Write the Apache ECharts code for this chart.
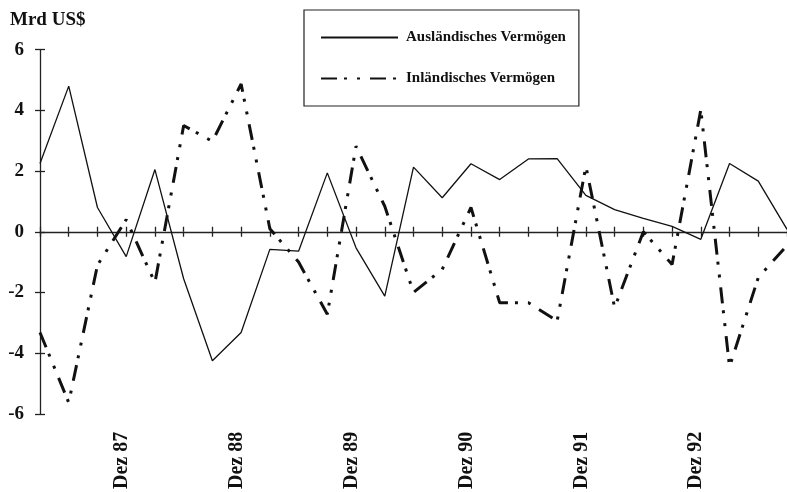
<!DOCTYPE html>
<html>
<head>
<meta charset="utf-8">
<script src="https://cdn.jsdelivr.net/npm/echarts@6/dist/echarts.min.js"></script>
<style>
html,body{margin:0;padding:0;background:#fff;}
#chart{width:787px;height:492px;}
</style>
</head>
<body>
<div id="chart"></div>
<script>
// Quarterly categories, Mär 87 – Sep 93
const categories = [
  "Mär 87","Jun 87","Sep 87","Dez 87",
  "Mär 88","Jun 88","Sep 88","Dez 88",
  "Mär 89","Jun 89","Sep 89","Dez 89",
  "Mär 90","Jun 90","Sep 90","Dez 90",
  "Mär 91","Jun 91","Sep 91","Dez 91",
  "Mär 92","Jun 92","Sep 92","Dez 92",
  "Mär 93","Jun 93","Sep 93"
];
const auslaendischesVermoegen = [
  2.25, 4.8, 0.8, -0.82, 2.05, -1.55, -4.25, -3.32, -0.58, -0.64, 1.94, -0.53, -2.12,
  2.13, 1.12, 2.24, 1.72, 2.4, 2.41, 1.2, 0.73, 0.44, 0.18, -0.25, 2.25, 1.67, 0.08
];
const inlaendischesVermoegen = [
  -3.32, -5.63, -1.1, 0.4, -1.68, 3.5, 2.98, 4.87, 0.1, -1.0, -2.72, 2.82, 0.84,
  -2.0, -1.24, 0.8, -2.34, -2.34, -2.94, 2.16, -2.5, 0.0, -1.08, 4.02, -4.45, -1.51, -0.45
];
const seriesNames = ["Ausländisches Vermögen", "Inländisches Vermögen"];
const unitLabel = "Mrd US$";

const serif = "'Liberation Serif', 'Times New Roman', serif";
const ink = "#111";

const chart = echarts.init(document.getElementById('chart'), null, {renderer: 'canvas'});

const xBase = {
  type: 'category',
  data: categories,
  boundaryGap: false,
  gridIndex: 0
};

chart.setOption({
  animation: false,
  backgroundColor: '#fff',
  title: {
    text: unitLabel,
    left: 5,
    top: 6,
    textStyle: {fontFamily: serif, fontWeight: 'bold', fontSize: 19, color: ink}
  },
  legend: {
    left: 304,
    top: 10,
    orient: 'vertical',
    data: seriesNames,
    itemWidth: 77,
    itemHeight: 14,
    itemGap: 26,
    padding: [20, 13, 20, 16],
    borderColor: '#222',
    borderWidth: 1.2,
    backgroundColor: '#fff',
    itemStyle: {opacity: 0},
    textStyle: {fontFamily: serif, fontWeight: 'bold', fontSize: 15, color: ink, padding: [0, 0, 0, 3]}
  },
  grid: {left: 40, right: 0, top: 49.7, bottom: 77.6},
  xAxis: [
    Object.assign({}, xBase, {
      position: 'bottom',
      axisLine: {show: false, onZero: false},
      axisTick: {show: false},
      axisLabel: {
        interval: function (idx, val) { return val.indexOf('Dez') === 0; },
        rotate: 90,
        margin: 18,
        formatter: function (val) { return '{a|' + val + '}\n{b| }'; },
        rich: {
          a: {fontFamily: serif, fontWeight: 'bold', fontSize: 20, color: ink, lineHeight: 20},
          b: {fontSize: 8, lineHeight: 9}
        }
      },
      splitLine: {show: false}
    }),
    Object.assign({}, xBase, {
      position: 'bottom',
      axisLine: {show: true, onZero: true, onZeroAxisIndex: 0, lineStyle: {color: '#222', width: 1.3}},
      axisTick: {show: true, inside: false, length: 5, interval: 0, lineStyle: {color: '#222', width: 1.3}},
      axisLabel: {show: false},
      splitLine: {show: false}
    }),
    Object.assign({}, xBase, {
      position: 'bottom',
      axisLine: {show: false, onZero: true, onZeroAxisIndex: 0},
      axisTick: {show: true, inside: true, length: 5, interval: 0, lineStyle: {color: '#222', width: 1.3}},
      axisLabel: {show: false},
      splitLine: {show: false}
    })
  ],
  yAxis: [
    {
      type: 'value', min: -6, max: 6, interval: 2, position: 'left',
      axisLine: {show: true, onZero: false, lineStyle: {color: '#222', width: 1.3}},
      axisTick: {show: true, inside: false, length: 5, lineStyle: {color: '#222', width: 1.3}},
      axisLabel: {margin: 16, fontFamily: serif, fontWeight: 'bold', fontSize: 19, color: ink, padding: [0, 0, 7, 0]},
      splitLine: {show: false}
    },
    {
      type: 'value', min: -6, max: 6, interval: 2, position: 'left',
      axisLine: {show: false, onZero: false},
      axisTick: {show: true, inside: true, length: 5, lineStyle: {color: '#222', width: 1.3}},
      axisLabel: {show: false},
      splitLine: {show: false}
    }
  ],
  series: [
    {
      name: seriesNames[0],
      type: 'line',
      xAxisIndex: 0, yAxisIndex: 0,
      data: auslaendischesVermoegen,
      symbol: 'none',
      lineStyle: {color: ink, width: 1.3, type: 'solid'},
      itemStyle: {color: ink}
    },
    {
      name: seriesNames[1],
      type: 'line',
      xAxisIndex: 0, yAxisIndex: 0,
      data: inlaendischesVermoegen,
      symbol: 'none',
      lineStyle: {color: ink, width: 3, type: [16, 7, 3, 10, 3, 10], cap: 'butt'},
      itemStyle: {color: ink}
    }
  ]
});
</script>
</body>
</html>
